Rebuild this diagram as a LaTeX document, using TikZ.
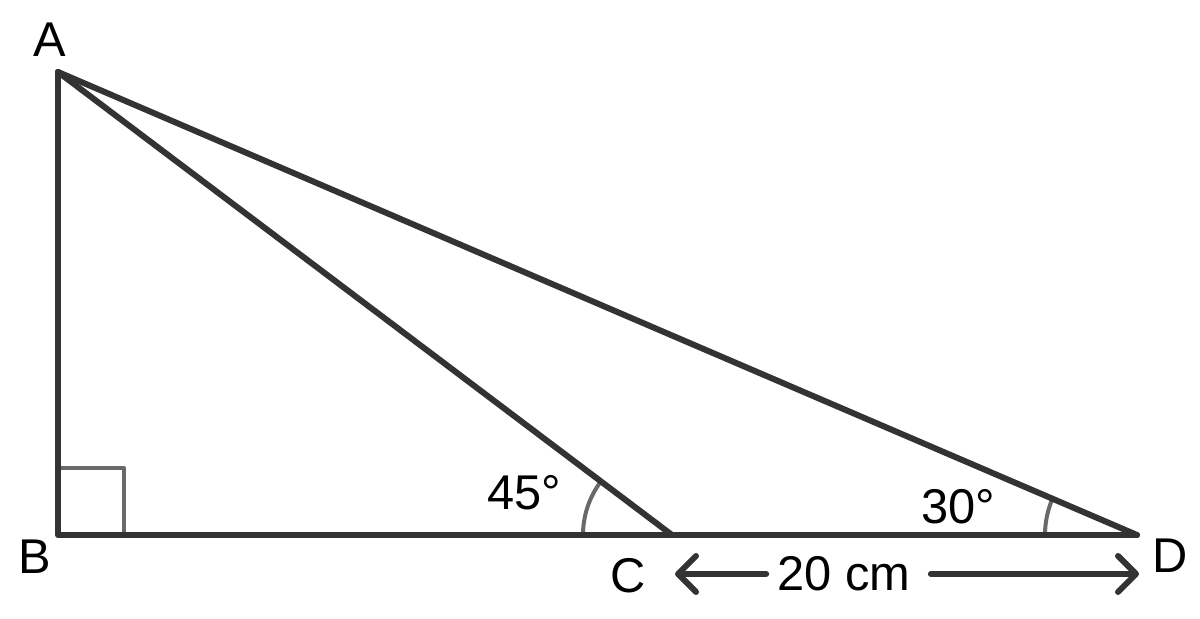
\documentclass[tikz,border=0pt]{standalone}
\usepackage{fontspec}
\setmainfont{Liberation Sans}
\usetikzlibrary{angles, arrows.meta, calc, quotes}
\definecolor{darkline}{RGB}{51, 51, 51}
\definecolor{markgray}{RGB}{105, 105, 105}

\begin{document}
\begin{tikzpicture}[line cap=round, line join=round, x=0.5pt, y=0.5pt,
		side/.style={darkline, line width=3pt},
		anglemark/.style={markgray, line width=2pt},
		dimarrow/.style={->, darkline, line width=3pt},
		>={Straight Barb[length=9pt, width=18pt, line cap=round, line join=round]},
		lbl/.style={inner sep=0pt, font=\fontsize{24.4}{29}\selectfont}]
		\useasboundingbox (0,0) rectangle (1200,619);
		% vertices
		\coordinate (A) at (58,547);
		\coordinate (B) at (58,84);
		\coordinate (C) at (672,84);
		\coordinate (D) at (1137,84);
		
		% right angle and angle marks
		\draw [anglemark] (B) rectangle ($(B)+(66,67)$);
		\pic [draw, anglemark, angle radius=44.5pt] {angle = A--C--B};
		\pic [draw, anglemark, angle radius=46pt] {angle = A--D--C};
		
		% sides
		\draw [side] (A)--(B)--(D);
		\draw [side] (A)--(C);
		\draw [side] (A)--(D);
		
		% labels
		\node [lbl] (labA) at (50,579) {A};
		\node [lbl] (labB) at (35,62) {B};
		\node [lbl] (labC) at (628,43) {C};
		\node [lbl] (labD) at (1170,63) {D};
		\node [lbl] (ang45) at (524,126) {45°};
		\node [lbl] (ang30) at (958,112) {30°};
		
		% length C to D
		\coordinate (cl) at (675,45);
		\coordinate (dl) at (1139,45);
		\node [lbl] (len) at (844,45) {20 cm};
		\draw [dimarrow] ([xshift=-5.5pt]len.west)--(cl);
		\draw [dimarrow] ([xshift=10pt]len.east)--(dl);
	\end{tikzpicture}
\end{document}
